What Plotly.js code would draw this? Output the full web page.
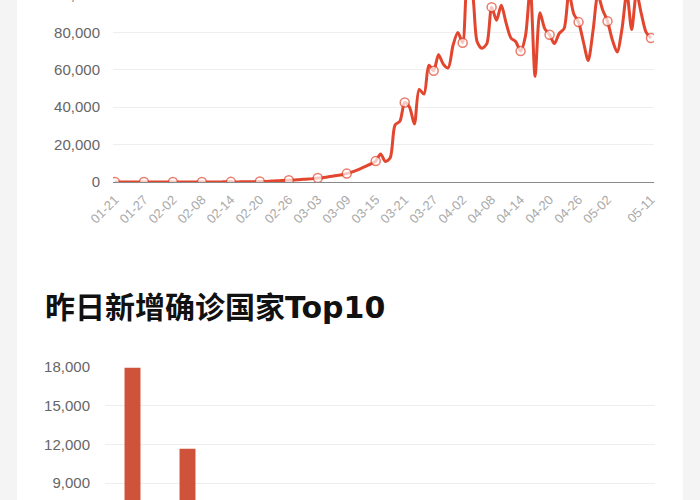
<!DOCTYPE html>
<html>
<head>
<meta charset="utf-8">
<script src="https://cdn.plot.ly/plotly-3.0.1.min.js"></script>
<style>
  html, body { margin: 0; padding: 0; width: 700px; height: 500px; overflow: hidden; background: #f4f4f4; }
  #card { position: absolute; left: 17px; top: 0; width: 666px; height: 500px; background: #fff; }
  #trend { position: absolute; left: 0; top: -20px; width: 700px; height: 282px; }
  #top10 { position: absolute; left: 0; top: 270px; width: 700px; height: 420px; }
</style>
</head>
<body>
<div id="card"></div>
<div id="trend"></div>
<div id="top10"></div>
<script>
// daily new confirmed cases outside China, one value per day from 2020-01-21
var startDate = '2020-01-21';
var dailyNew = [
  3, 2, 4, 5, 9, 14, 15, 12, 16, 22, 25,
  18, 24, 15, 20, 28, 22, 35, 30, 26, 38, 34,
  45, 110, 75, 60, 72, 95, 130, 170, 230, 280, 420,
  600, 720, 860, 950, 1050, 1250, 1450, 1600, 1800,
  2100, 2300, 2700, 3100, 3500, 3900,
  4500, 5300, 6200, 7300, 8500, 9700,
  11200, 15000, 11000, 13000, 30500, 32500,
  42500, 40000, 31000, 49500, 47000, 62500,
  59500, 68000, 63000, 61000, 73000, 80000,
  74500, 106000, 101000, 75000, 71500, 74000,
  93500, 86500, 94500, 85000, 77000, 75000,
  70000, 78000, 104000, 56500, 90500, 82000,
  78700, 74000, 79500, 82000, 101000, 90000,
  85500, 75000, 65000, 81000, 100000, 92000,
  86000, 76000, 69500, 82000, 101000, 81500,
  101000, 90000, 80000, 77000
];

// labelled days on the x axis (markers are drawn on these days too)
var tickDates = ['2020-01-21', '2020-01-27', '2020-02-02', '2020-02-08', '2020-02-14',
  '2020-02-20', '2020-02-26', '2020-03-03', '2020-03-09', '2020-03-15', '2020-03-21',
  '2020-03-27', '2020-04-02', '2020-04-08', '2020-04-14', '2020-04-20', '2020-04-26',
  '2020-05-02', '2020-05-11'];

// yesterday's top 10 countries by new confirmed cases
var countries = ['美国', '俄罗斯', '巴西', '印度', '英国', '秘鲁', '沙特阿拉伯', '巴基斯坦', '墨西哥', '土耳其'];
var countryNew = [17950, 11656, 6760, 4213, 3877, 3237, 1911, 1637, 1562, 1114];

var DAY = 86400000;
var LINE_RED = '#e2462f';
var BAR_RED = '#cf523b';
var labelFont = 'Liberation Sans, Helvetica, Arial, sans-serif';

// which points carry a hollow marker
var t0 = Date.parse(startDate);
var markIdx = tickDates.map(function (d) { return Math.round((Date.parse(d) - t0) / DAY); });
var sizes = [], widths = [];
for (var i = 0; i < dailyNew.length; i++) {
  var on = markIdx.indexOf(i) >= 0;
  sizes.push(on ? 9 : 0);
  widths.push(on ? 1.5 : 0);
}

var trendTrace = {
  x0: startDate,
  dx: DAY,
  y: dailyNew,
  type: 'scatter',
  mode: 'lines+markers',
  line: { color: LINE_RED, width: 3, shape: 'spline', smoothing: 0.8 },
  marker: { size: sizes, color: '#fff', line: { color: LINE_RED, width: widths } },
  hoverinfo: 'skip'
};

var trendLayout = {
  width: 700, height: 282,
  margin: { l: 113, r: 46, t: 15, b: 80 },
  paper_bgcolor: 'rgba(0,0,0,0)',
  plot_bgcolor: 'rgba(0,0,0,0)',
  showlegend: false,
  xaxis: {
    type: 'date',
    range: ['2020-01-20 14:10', '2020-05-11 15:00'],
    tickvals: tickDates,
    ticktext: tickDates.map(function (d) { return d.slice(5); }),
    tickangle: -45,
    tickfont: { family: labelFont, size: 13, color: '#aaa' },
    showgrid: false,
    showline: true, linecolor: '#8a8a8a', linewidth: 1,
    ticks: '', ticklabelstandoff: 4,
    fixedrange: true
  },
  yaxis: {
    range: [0, 100000],
    dtick: 20000,
    tickformat: ',d',
    tickfont: { family: labelFont, size: 15, color: '#666' },
    gridcolor: '#eeeeee', gridwidth: 1,
    zeroline: false,
    ticks: '', ticklabelstandoff: 12,
    fixedrange: true
  }
};

var barTrace = {
  x: countries,
  y: countryNew,
  type: 'bar',
  marker: { color: BAR_RED },
  hoverinfo: 'skip'
};

var barLayout = {
  width: 700, height: 420,
  margin: { l: 105, r: 45, t: 97, b: 91 },
  paper_bgcolor: 'rgba(0,0,0,0)',
  plot_bgcolor: 'rgba(0,0,0,0)',
  showlegend: false,
  bargap: 0.71,
  title: {
    text: '<b>昨日新增确诊国家<span style="font-family:DejaVu Sans">Top10</span></b>',
    font: { family: 'Noto Sans CJK SC, sans-serif', size: 30, color: '#111' },
    x: 45 / 700, xref: 'container', xanchor: 'left',
    y: 1 - 27 / 420, yref: 'container', yanchor: 'top'
  },
  xaxis: {
    type: 'category',
    tickfont: { family: labelFont, size: 12, color: '#999' },
    showgrid: false, showline: true, linecolor: '#8a8a8a',
    ticks: '', fixedrange: true
  },
  yaxis: {
    range: [0, 18000],
    dtick: 3000,
    tickformat: ',d',
    tickfont: { family: labelFont, size: 15, color: '#666' },
    gridcolor: '#eeeeee', gridwidth: 1,
    zeroline: false,
    ticks: '', ticklabelstandoff: 14,
    fixedrange: true
  }
};

Plotly.newPlot('trend', [trendTrace], trendLayout, { staticPlot: true, displayModeBar: false });
Plotly.newPlot('top10', [barTrace], barLayout, { staticPlot: true, displayModeBar: false });
</script>
</body>
</html>
